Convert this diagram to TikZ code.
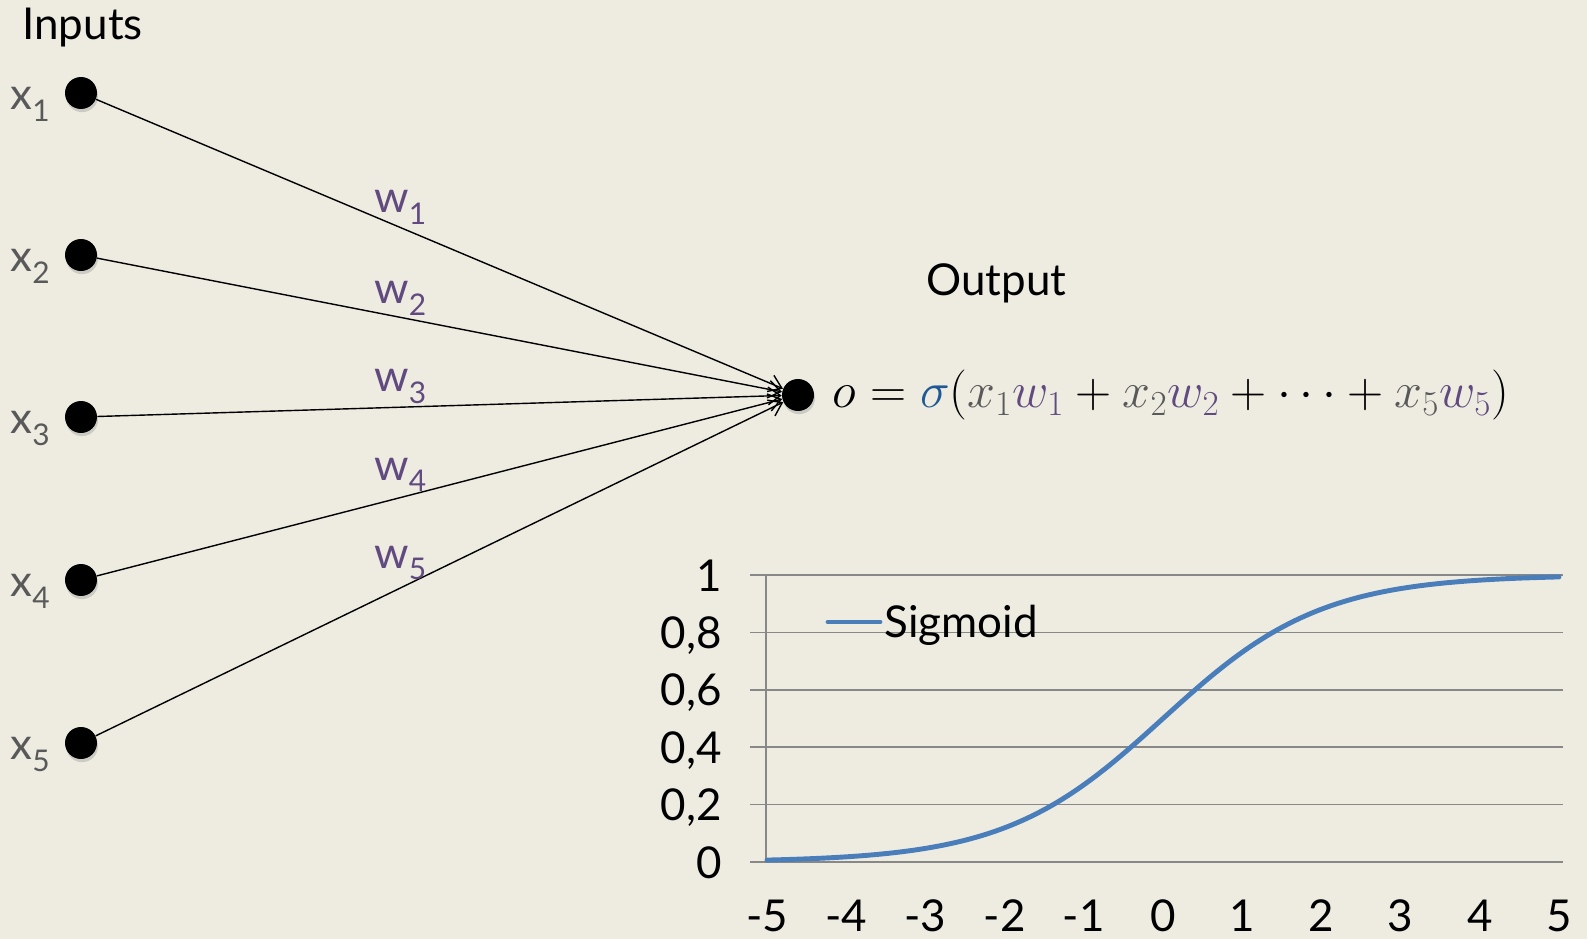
\documentclass[tikz,border=0pt]{standalone}
\usepackage{fix-cm}
\usepackage{fontspec}
\setmainfont{Lato}
\usetikzlibrary{arrows.meta, positioning, shadows}
\definecolor{slidebg}{RGB}{238,236,225}
\definecolor{inpgray}{RGB}{89,89,89}
\definecolor{wpurple}{RGB}{96,74,128}
\definecolor{sigblue}{RGB}{31,88,148}
\definecolor{curveblue}{RGB}{74,126,187}
\definecolor{gridgray}{RGB}{136,136,136}
\tikzset{
  neuron/.style={circle, fill=black, minimum size=0.64cm, inner sep=0pt,
    drop shadow={opacity=0.3, shadow xshift=0.6pt, shadow yshift=-1.8pt}},
  bigtext/.style={font=\fontsize{25}{30}\selectfont, inner sep=0pt},
  xlab/.style={bigtext, text=inpgray, anchor=base east},
  wlab/.style={bigtext, text=wpurple, anchor=base west},
  conn/.style={line width=0.8pt, -{Straight Barb[length=7pt, width=10pt]}},
  gridline/.style={gridgray, line width=1pt},
  sigcurve/.style={curveblue, line width=2.8pt, line cap=round}
}
\newcommand{\lowsub}[1]{\raisebox{-0.26em}{\fontsize{17}{20}\selectfont #1}}
\newcommand{\xin}[1]{\textcolor{inpgray}{x_{#1}}}
\newcommand{\win}[1]{\textcolor{wpurple}{w_{#1}}}

\begin{document}
\begin{tikzpicture}[x=0.02cm, y=-0.02cm]
  \fill[slidebg] (0,0) rectangle (1587,939);
  \useasboundingbox (0,0) rectangle (1587,939);

  \node[bigtext, anchor=base west] (inputs) at (22,40) {Inputs};
  \foreach \i/\y in {1/93, 2/255, 3/417, 4/580, 5/743} {
    \node[neuron] (x\i) at (81,\y) {};
    \node[xlab] (lx\i) at ([xshift=-0.62cm, yshift=-0.34cm]x\i.center) {x\lowsub{\i}};
  }
  \node[neuron] (out) at (798,395) {};
  \node[bigtext, anchor=base west] (output) at (926,296) {Output};
  \node[right=0.36cm of out, inner sep=0pt, font=\fontsize{28.5}{33}\selectfont] (formula)
    {$o = \textcolor{sigblue}{\sigma}(\xin{1}\win{1} + \xin{2}\win{2} + \cdots + \xin{5}\win{5})$};

  \foreach \i in {1,...,5}
    \draw[conn] (x\i) -- (out);
  \foreach \i/\y in {1/213, 2/304, 3/392, 4/480, 5/568}
    \node[wlab] (w\i) at (374,\y) {w\lowsub{\i}};

  % sigmoid chart
  \foreach \v/\t in {0/0, 0.2/{0,2}, 0.4/{0,4}, 0.6/{0,6}, 0.8/{0,8}, 1/1} {
    \draw[gridline] (750,862-287*\v) -- (1563,862-287*\v);
    \node[bigtext, anchor=base east] at (722,878-287*\v) {\t};
  }
  \draw[gridline] (766,575) -- (766,862);
  \foreach \t in {-5,...,5}
    \node[bigtext, anchor=base] at (1163+79.2*\t,931) {\t};
  \draw[sigcurve] plot[domain=-5:5, samples=80, smooth] ({1163+79.2*\x},{862-287/(1+exp(-\x))});
  \draw[sigcurve] (828,622) -- (880,622);
  \node[bigtext, anchor=base west] (legend) at (884,637) {Sigmoid};
\end{tikzpicture}
\end{document}
